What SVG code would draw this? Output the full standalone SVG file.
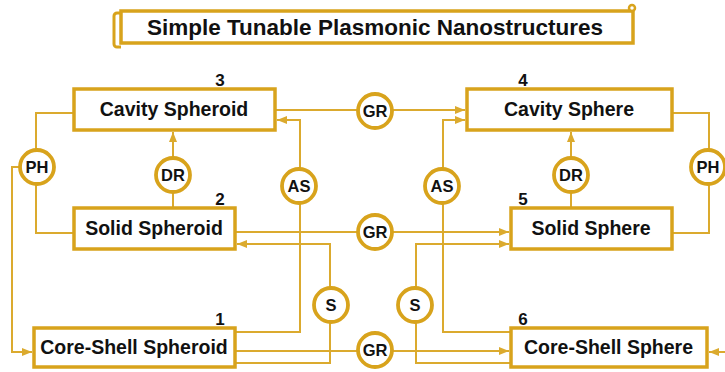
<svg xmlns="http://www.w3.org/2000/svg" width="725" height="372" viewBox="0 0 725 372">
<style>
.box{fill:#fff;stroke:#D8A31C;stroke-width:3.5}
.op{fill:#fff;stroke:#D8A31C;stroke-width:3.8}
.ln{fill:none;stroke:#DBAA2E;stroke-width:2}
.lbl{font-family:"Liberation Sans",Arial,sans-serif;font-weight:bold;font-size:19.5px;fill:#111;text-anchor:middle}
.opl{font-family:"Liberation Sans",Arial,sans-serif;font-weight:bold;font-size:16.5px;fill:#111;text-anchor:middle}
.num{font-family:"Liberation Sans",Arial,sans-serif;font-weight:bold;font-size:17px;fill:#111;text-anchor:middle}
.ttl{font-family:"Liberation Sans",Arial,sans-serif;font-weight:bold;font-size:22.5px;fill:#111;text-anchor:middle}
</style>
<defs>
<marker id="arr" markerUnits="userSpaceOnUse" markerWidth="10" markerHeight="8" refX="10" refY="4" orient="auto">
<path d="M0,0 L10,4 L0,8 z" fill="#DBAA2E"/>
</marker>
</defs>
<rect width="725" height="372" fill="#fff"/>
<g id="title">
<path d="M121,13 H117 a3,3 0 0 0 -3,3 V44 a3,3 0 0 0 3,3 H121" fill="#fff" stroke="#D8A31C" stroke-width="3"/>
<rect x="121" y="11" width="512" height="32" fill="#fff" stroke="#D8A31C" stroke-width="3.5"/>
<circle cx="632" cy="8" r="3" fill="#fff" stroke="#D8A31C" stroke-width="2.5"/>
<text class="ttl" x="375" y="35">Simple Tunable Plasmonic Nanostructures</text>
</g>
<g id="connectors">
<path class="ln" d="M275,110 H465" marker-end="url(#arr)"/>
<path class="ln" d="M235,332 H300 V120 H277" marker-end="url(#arr)"/>
<path class="ln" d="M74,113 H36 V233 H74"/>
<path class="ln" d="M20,167 H12 V352 H32" marker-end="url(#arr)"/>
<path class="ln" d="M173,208 V132" marker-end="url(#arr)"/>
<path class="ln" d="M235,232 H509" marker-end="url(#arr)"/>
<path class="ln" d="M235,363 H330 V244 H237" marker-end="url(#arr)"/>
<path class="ln" d="M235,351 H509" marker-end="url(#arr)"/>
<path class="ln" d="M511,363 H416 V244 H509" marker-end="url(#arr)"/>
<path class="ln" d="M511,332 H443 V120 H465" marker-end="url(#arr)"/>
<path class="ln" d="M571,208 V132" marker-end="url(#arr)"/>
<path class="ln" d="M672,113 H709 V233 H672"/>
<path class="ln" d="M725,352 H709" marker-end="url(#arr)"/>
</g>
<g id="n3"><rect class="box" x="74" y="89" width="201" height="41"/><text class="lbl" x="174" y="116">Cavity Spheroid</text><text class="num" x="220" y="86">3</text></g>
<g id="n4"><rect class="box" x="467" y="89" width="205" height="41"/><text class="lbl" x="569" y="116">Cavity Sphere</text><text class="num" x="523" y="86">4</text></g>
<g id="n2"><rect class="box" x="74" y="208" width="161" height="41"/><text class="lbl" x="154" y="235">Solid Spheroid</text><text class="num" x="220" y="205">2</text></g>
<g id="n5"><rect class="box" x="511" y="208" width="161" height="41"/><text class="lbl" x="591" y="235">Solid Sphere</text><text class="num" x="523" y="205">5</text></g>
<g id="n1"><rect class="box" x="34" y="328" width="201" height="39"/><text class="lbl" x="134" y="354">Core-Shell Spheroid</text><text class="num" x="220" y="325">1</text></g>
<g id="n6"><rect class="box" x="511" y="328" width="196" height="39"/><text class="lbl" x="608.5" y="354">Core-Shell Sphere</text><text class="num" x="523" y="325">6</text></g>
<g id="gr1"><circle class="op" cx="375" cy="111" r="17"/><text class="opl" x="375" y="117">GR</text></g>
<g id="gr2"><circle class="op" cx="375" cy="232" r="17"/><text class="opl" x="375" y="238">GR</text></g>
<g id="gr3"><circle class="op" cx="375" cy="350" r="17"/><text class="opl" x="375" y="356">GR</text></g>
<g id="ph1"><circle class="op" cx="37" cy="167" r="17"/><text class="opl" x="37" y="173">PH</text></g>
<g id="ph2"><circle class="op" cx="708" cy="167" r="17"/><text class="opl" x="708" y="173">PH</text></g>
<g id="dr1"><circle class="op" cx="173" cy="175" r="17"/><text class="opl" x="173" y="181">DR</text></g>
<g id="dr2"><circle class="op" cx="571" cy="175" r="17"/><text class="opl" x="571" y="181">DR</text></g>
<g id="as1"><circle class="op" cx="299" cy="186" r="17"/><text class="opl" x="299" y="192">AS</text></g>
<g id="as2"><circle class="op" cx="442" cy="186" r="17"/><text class="opl" x="442" y="192">AS</text></g>
<g id="s1"><circle class="op" cx="331" cy="305" r="17"/><text class="opl" x="331" y="311">S</text></g>
<g id="s2"><circle class="op" cx="415" cy="305" r="17"/><text class="opl" x="415" y="311">S</text></g>
</svg>
